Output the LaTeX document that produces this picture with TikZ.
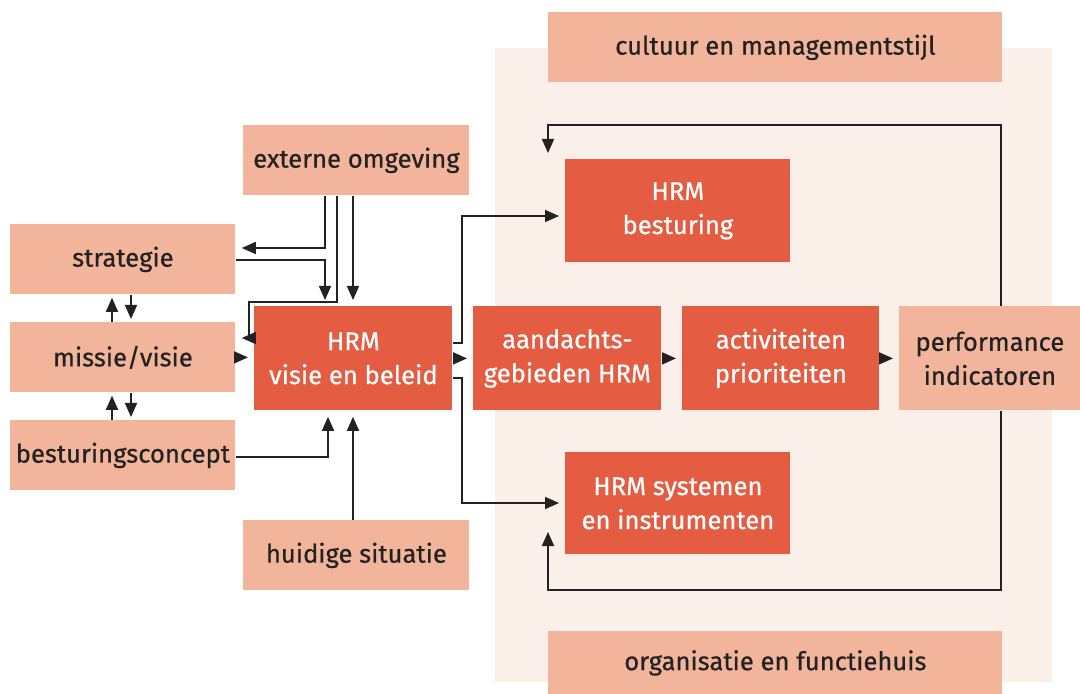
\documentclass[tikz,border=0pt]{standalone}
\usepackage{fontspec}
\setmainfont{Fira Sans}[FakeBold=0.6]
\usetikzlibrary{arrows.meta}
\definecolor{hrmred}{HTML}{E45C42}
\definecolor{hrmlite}{HTML}{F2B49B}
\definecolor{hrmpale}{HTML}{FBEFEA}
\definecolor{ink}{HTML}{222222}
\begin{document}
\begin{tikzpicture}[x=0.5pt,y=-0.5pt,>={Triangle[length=7pt,width=6pt]},
  lite/.style={fill=hrmlite,text=ink,align=center,font=\fontsize{12.8}{17}\selectfont,inner sep=0pt,anchor=north west},
  dark/.style={lite,fill=hrmred,text=white},
  link/.style={->,ink,line width=0.8pt,shorten >=3pt}]
  \useasboundingbox (0,0) rectangle (1080,694);
  % organisation frame
  \fill[hrmpale] (495,48) rectangle (1052,682);
  \node[lite,minimum width=227pt,minimum height=35pt] (cult) at (548,12) {cultuur en managementstijl};
  \node[lite,minimum width=227pt,minimum height=31.5pt] (org) at (548,631) {organisatie en functiehuis};
  % inputs
  \node[lite,minimum width=113pt,minimum height=35pt] (ext) at (243,125) {externe omgeving};
  \node[lite,minimum width=112.5pt,minimum height=35pt] (strat) at (10,224) {strategie};
  \node[lite,minimum width=112.5pt,minimum height=35pt] (missie) at (10,322) {missie/visie};
  \node[lite,minimum width=112.5pt,minimum height=35pt] (best) at (10,420) {besturingsconcept};
  \node[lite,minimum width=113pt,minimum height=35pt] (huid) at (243,520) {huidige situatie};
  % HRM chain
  \node[dark,minimum width=99pt,minimum height=52pt] (beleid) at (254,306) {HRM\\visie en beleid};
  \node[dark,minimum width=94pt,minimum height=52pt] (aand) at (473,306) {aandachts-\\gebieden HRM};
  \node[dark,minimum width=98.5pt,minimum height=52pt] (activ) at (682,306) {activiteiten\\prioriteiten};
  \node[lite,minimum width=90.5pt,minimum height=52pt] (perf) at (899,306) {performance\\indicatoren};
  \node[dark,minimum width=112.5pt,minimum height=51.5pt] (bestu) at (565,159) {HRM\\besturing};
  \node[dark,minimum width=112.5pt,minimum height=51pt] (syst) at (565,452) {HRM systemen\\en instrumenten};
  % bend points
  \coordinate (a1) at (325,248);
  \coordinate (a2) at (325,260);
  \coordinate (a3) at (337,302);
  \coordinate (a4) at (249,338);
  \coordinate (a5) at (353,0);
  \coordinate (b1) at (112,0);
  \coordinate (b2) at (131,0);
  \coordinate (c1) at (328,457);
  \coordinate (d1) at (462,343);
  \coordinate (d2) at (462,216);
  \coordinate (d3) at (462,378);
  \coordinate (d4) at (462,503);
  \coordinate (e1) at (1001,125);
  \coordinate (e2) at (548,159);
  \coordinate (e3) at (1001,590);
  \coordinate (e4) at (548,532);
  % left side
  \draw[link] (ext.south -| a1) |- (strat.east |- a1);
  \draw[link] (strat.east |- a2) -| (beleid.north -| a2);
  \draw[link] (ext.south -| a3) -- (a3) -| (a4) -- (missie.east |- a4);
  \draw[link] (ext.south -| a5) -- (beleid.north -| a5);
  \draw[link] (missie.east) -- (missie.east -| beleid.west);
  \draw[link] (best.east |- c1) -| (beleid.south -| c1);
  \draw[link] (huid.north -| a5) -- (beleid.south -| a5);
  \draw[link,shorten >=1.5pt] (missie.north -| b1) -- (strat.south -| b1);
  \draw[link,shorten >=1.5pt] (strat.south -| b2) -- (missie.north -| b2);
  \draw[link,shorten >=1.5pt] (best.north -| b1) -- (missie.south -| b1);
  \draw[link,shorten >=1.5pt] (missie.south -| b2) -- (best.north -| b2);
  % right side
  \draw[link] (beleid.east) -- (aand.west);
  \draw[link] (aand.east) -- (activ.west);
  \draw[link] (activ.east) -- (perf.west);
  \draw[link] (beleid.east |- d1) -| (d2) -- (bestu.west |- d2);
  \draw[link] (beleid.east |- d3) -| (d4) -- (syst.west |- d4);
  % feedback loop
  \draw[link] (perf.north -| e1) -- (e1) -| (e2);
  \draw[link,shorten >=0pt] (perf.south -| e3) -- (e3) -| (e4);
\end{tikzpicture}
\end{document}
